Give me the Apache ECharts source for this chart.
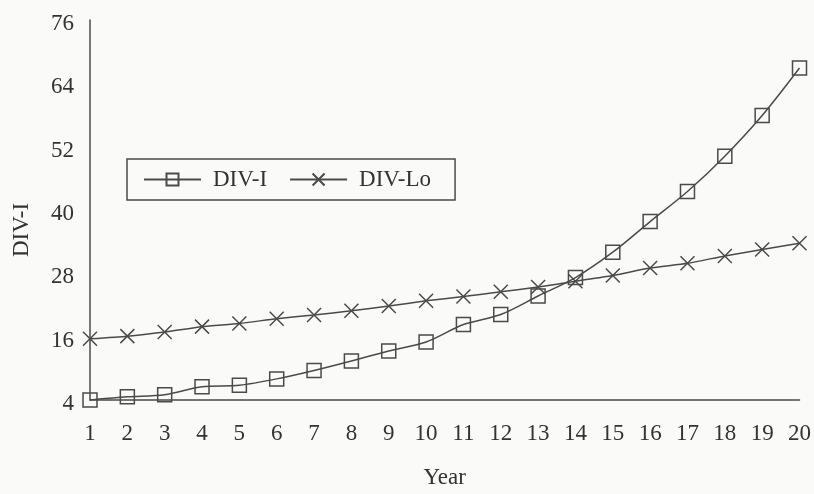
<!DOCTYPE html>
<html>
<head>
<meta charset="utf-8">
<title>DIV-I and DIV-Lo by year</title>
<script src="https://cdn.jsdelivr.net/npm/echarts@6/dist/echarts.min.js"></script>
<style>
  html, body { margin: 0; padding: 0; background: #fafaf8; overflow: hidden; }
  #chart { width: 814px; height: 494px; }
</style>
</head>
<body>
<div id="chart"></div>
<script>
// Years on the horizontal axis
const years = ['1','2','3','4','5','6','7','8','9','10','11','12','13','14','15','16','17','18','19','20'];

// DIV-I values (square markers)
const divI = [4.0, 4.6, 5.0, 6.5, 6.8, 8.0, 9.6, 11.4, 13.3, 15.0, 18.3, 20.2, 23.7, 27.2, 32.0, 37.8, 43.5, 50.2, 57.9, 66.9];

// DIV-Lo values (cross markers)
const divLo = [15.6, 16.1, 16.9, 17.9, 18.5, 19.4, 20.1, 20.9, 21.8, 22.8, 23.6, 24.5, 25.4, 26.5, 27.6, 29.0, 29.9, 31.3, 32.5, 33.7];

// Vertical axis tick labels
const yTicks = [4, 16, 28, 40, 52, 64, 76];

const serif = "'Liberation Serif', 'Times New Roman', serif";
const ink = '#4a4a4a';
const textInk = '#333';
const crossPath = 'path://M0,0L10,10M10,0L0,10';

const chart = echarts.init(document.getElementById('chart'), null, { renderer: 'canvas', width: 814, height: 494 });

chart.setOption({
  backgroundColor: '#fafaf8',
  animation: false,
  textStyle: { fontFamily: serif },
  grid: { left: 90, top: 20, width: 713, height: 388, containLabel: false },
  legend: {
    left: 127,
    top: 159,
    orient: 'horizontal',
    padding: [9, 24, 9, 16],
    borderColor: ink,
    borderWidth: 1.5,
    borderRadius: 0,
    itemWidth: 57,
    itemHeight: 15,
    itemGap: 22,
    textStyle: { fontFamily: serif, fontSize: 23, color: textInk, padding: [0, 0, 0, 7] },
    data: ['DIV-I', 'DIV-Lo']
  },
  xAxis: {
    type: 'category',
    data: years,
    boundaryGap: false,
    name: 'Year',
    nameLocation: 'middle',
    nameGap: 66,
    nameTextStyle: { fontFamily: serif, fontSize: 23, color: textInk },
    axisLine: { show: true, lineStyle: { color: ink, width: 1.5 } },
    axisTick: { show: false },
    axisLabel: { margin: 22, fontFamily: serif, fontSize: 23, color: textInk, interval: 0 },
    splitLine: { show: false }
  },
  yAxis: {
    type: 'value',
    min: 4,
    max: 76,
    name: 'DIV-I',
    nameLocation: 'middle',
    nameGap: 57,
    nameTextStyle: { fontFamily: serif, fontSize: 23, color: textInk, padding: [0, 40, 0, 0] },
    axisLine: { show: true, lineStyle: { color: ink, width: 1.5 } },
    axisTick: { show: false },
    axisLabel: {
      customValues: yTicks,
      margin: 16,
      fontFamily: serif,
      fontSize: 23,
      color: textInk,
      verticalAlign: 'top',
      lineHeight: 8
    },
    splitLine: { show: false }
  },
  series: [
    {
      name: 'DIV-I',
      type: 'line',
      data: divI,
      smooth: 0.3,
      symbol: 'rect',
      symbolSize: 14,
      showAllSymbol: true,
      lineStyle: { color: ink, width: 1.5 },
      itemStyle: { color: 'rgba(0,0,0,0)', borderColor: ink, borderWidth: 1.5 }
    },
    {
      name: 'DIV-Lo',
      type: 'line',
      data: divLo,
      smooth: 0.2,
      symbol: crossPath,
      symbolSize: 14,
      showAllSymbol: true,
      lineStyle: { color: ink, width: 1.5 },
      itemStyle: { color: 'rgba(0,0,0,0)', borderColor: ink, borderWidth: 1.5 }
    }
  ]
});
</script>
</body>
</html>
